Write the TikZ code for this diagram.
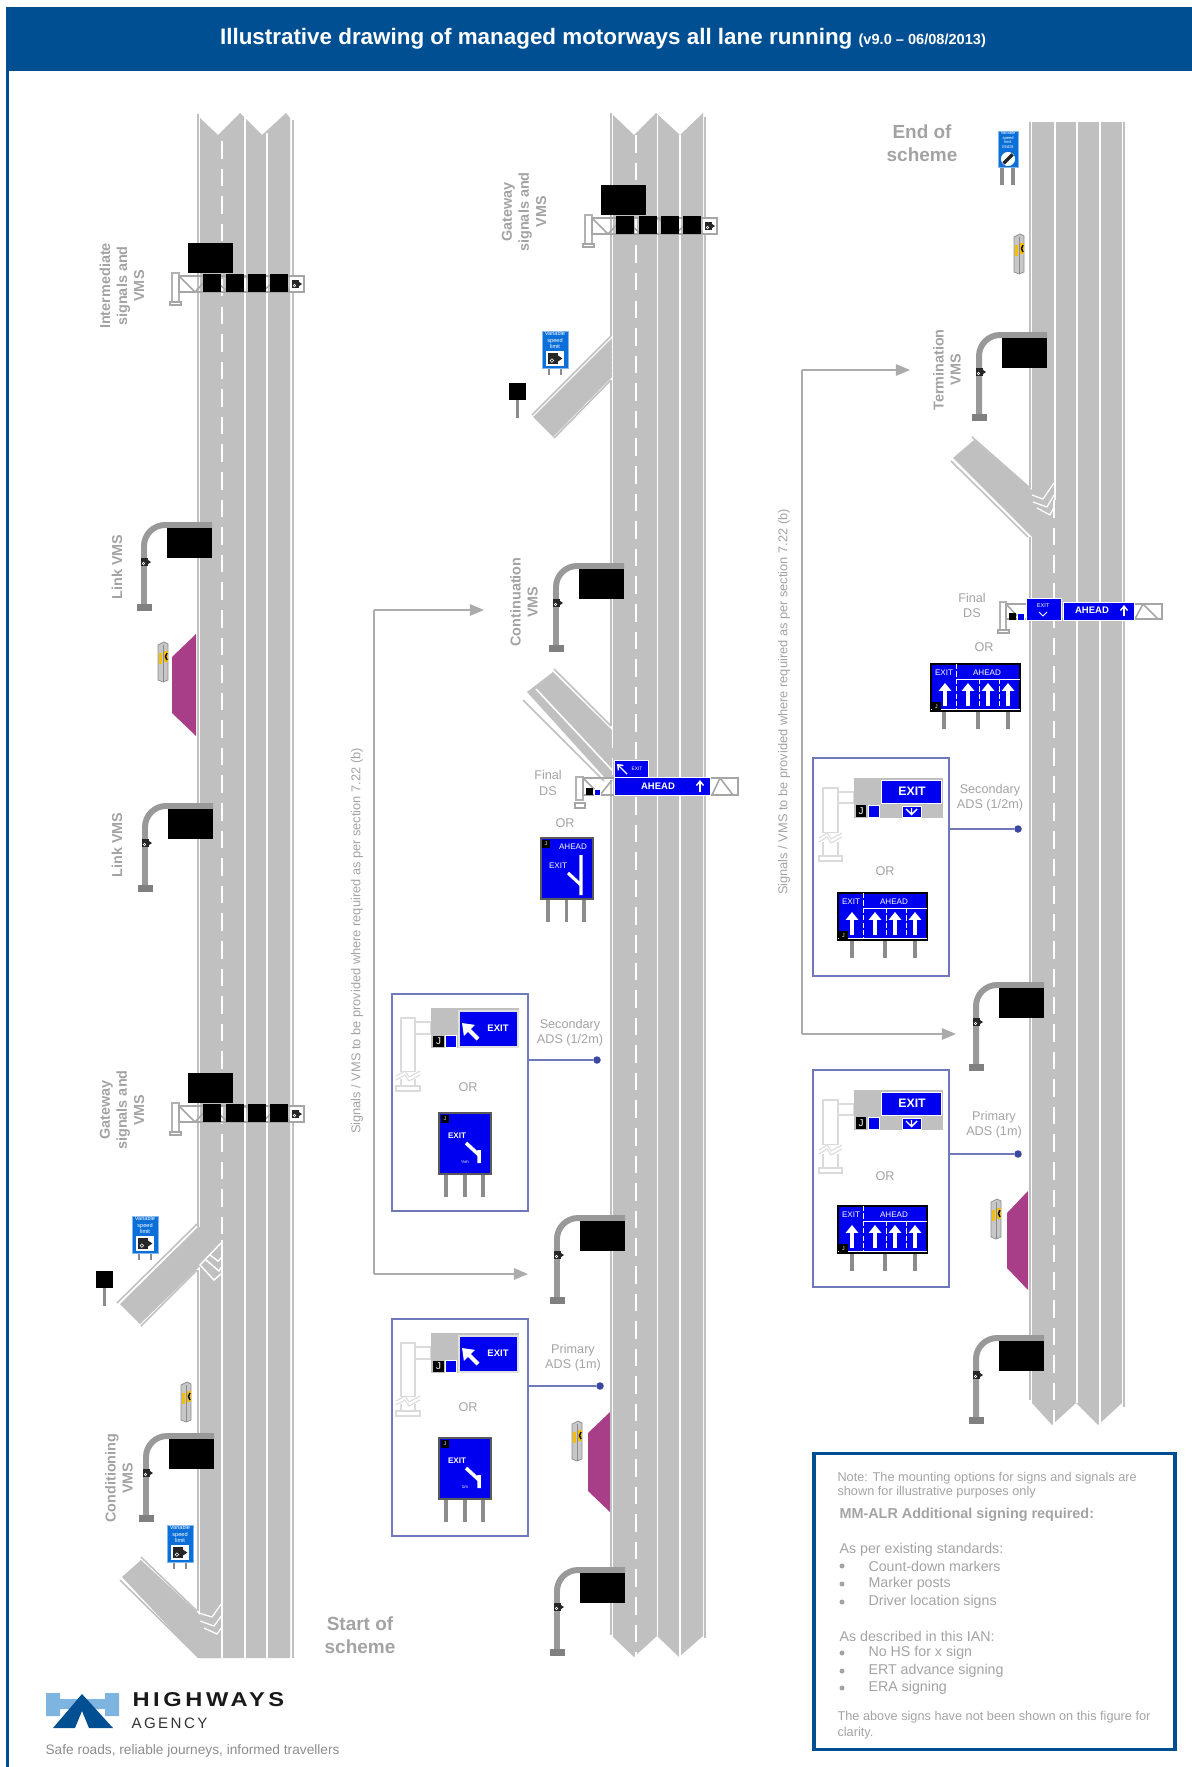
\documentclass[tikz,border=0pt]{standalone}
\usepackage{fontspec}
\setmainfont{Liberation Sans}
\usetikzlibrary{positioning, arrows.meta}
\definecolor{hablue}{HTML}{004F93}
\definecolor{logoblue}{HTML}{7DB4E0}
\definecolor{roadgrey}{HTML}{C0C0C0}
\definecolor{labelgrey}{HTML}{A3A3A3}
\definecolor{adsblue}{HTML}{7078BC}
\definecolor{dotblue}{HTML}{3B47A0}
\definecolor{signblue}{HTML}{0000F0}
\definecolor{vslblue}{HTML}{0A6FD8}
\definecolor{erapurple}{HTML}{A83E87}
\definecolor{ertyellow}{HTML}{F5BE00}
\def\px{0.02cm}
\tikzset{
  roadline/.style={white, line width=0.9pt},
  roaddash/.style={white, line width=0.9pt, dash pattern=on 10pt off 5.7pt},
  roadedge/.style={roadgrey, line width=0.9pt},
  plainlabel/.style={text=labelgrey, inner sep=0pt, align=center, font=\fontsize{7.2}{8.6}\selectfont},
  vmslabel/.style={text=labelgrey, inner sep=0pt, align=center, rotate=90, font=\bfseries\fontsize{8.2}{9.7}\selectfont},
  schemelabel/.style={text=labelgrey, inner sep=0pt, align=center, font=\bfseries\fontsize{10.8}{13.4}\selectfont},
  sidelabel/.style={text=labelgrey, inner sep=0pt, rotate=90, font=\fontsize{7.3}{9}\selectfont},
  orlabel/.style={text=labelgrey, inner sep=0pt, font=\fontsize{7.2}{8.6}\selectfont},
  signtext/.style={text=white, inner sep=0pt, font=\fontsize{4.6}{5}\selectfont},
  signbold/.style={text=white, inner sep=0pt, font=\bfseries\fontsize{5.4}{6}\selectfont},
  notetext/.style={text=labelgrey, inner sep=0pt, anchor=west, font=\fontsize{7.25}{8.6}\selectfont},
  itemtext/.style={text=labelgrey, inner sep=0pt, anchor=west, font=\fontsize{8.1}{9}\selectfont},
  adsbox/.style={draw=adsblue, line width=0.8pt, inner sep=0pt, minimum width=136*\px},
  adsdot/.style={circle, fill=dotblue, inner sep=0pt, minimum size=7.5*\px},
  adsline/.style={adsblue, line width=0.8pt},
  feedline/.style={draw=black!33, line width=0.85pt},
  feedarrow/.style={feedline, -{Triangle[length=8pt,width=6.5pt]}},
  gantrybar/.style={draw=black!35, line width=0.9pt},
  lightpost/.style={draw=black!14, line width=0.8pt, fill=white},
  signpost/.style={draw=black!45, line width=2.1pt},
  whitearrow/.style={white, line width=2pt, -{Triangle[length=4.5pt,width=7pt]}},
  thinarrow/.style={white, line width=0.6pt, -{Straight Barb[length=2.5pt,width=4pt]}},
  camicon/.pic={
    \fill[black!85] (-4,-4) rectangle (3,4);
    \fill[black!85] (3,-2) -- (6,0) -- (3,2) -- cycle;
    \draw[white, line width=0.3pt] (-1.5,1.5) circle[radius=1.3];
  },
}

\begin{document}
\begin{tikzpicture}[x=0.02cm, y=-0.02cm, line width=0.6pt]
  \useasboundingbox (0,0) rectangle (1192,1767);

  % header and frame
  \fill[hablue] (6,7) rectangle (1192,71);
  \fill[hablue] (6,71) rectangle (9,1767);
  \node (title) [text=white, inner sep=0pt] at (603,38.5) {\bfseries\fontsize{12.75}{15}\selectfont Illustrative drawing of managed motorways all lane running \fontsize{8.3}{15}\selectfont (v9.0 – 06/08/2013)};

  % slip roads
  \fill[roadgrey] (198,1227) -- (120,1304) -- (140,1324) -- (198,1268) -- (222,1250) -- (222,1227) -- cycle;
  \draw[roadedge] (197,1224) -- (117,1303);
  \draw[roadedge] (197,1270) -- (141,1326);
  \fill[roadgrey] (141,1560) -- (122,1577) -- (198,1658) -- (222,1658) -- (222,1640) -- (198,1613) -- cycle;
  \draw[roadedge] (141,1557) -- (197,1611);
  \draw[roadedge] (120,1580) -- (197,1656);
  \fill[roadgrey] (612,338) -- (533,417) -- (553,437) -- (612,377) -- cycle;
  \draw[roadedge] (611,336) -- (532,415);
  \draw[roadedge] (611,380) -- (554,438);
  \fill[roadgrey] (553,672) -- (612,730) -- (620,778) -- (605,778) -- (527,692) -- cycle;
  \draw[roadedge] (554,669) -- (611,726);
  \draw[roadedge] (523,700) -- (604,781);
  \draw[roadline] (536,689) -- (612,770);
  \fill[roadgrey] (974,440) -- (953,458) -- (1032,537) -- (1055,537) -- (1055,505) -- (1032,490) -- cycle;
  \draw[roadedge] (972,437) -- (1030,488);
  \draw[roadedge] (951,461) -- (1028,537);

  % carriageways
  \fill[roadgrey] (200,118) -- (218,135) -- (240,113) -- (262,135) -- (286,113) -- (290,118) -- (290,1658) -- (200,1658) -- cycle;
  \fill[roadgrey] (613,115) -- (634,135) -- (656,113) -- (680,135) -- (703,113) -- (703,1636) -- (679,1657) -- (657,1636) -- (634,1657) -- (613,1637) -- cycle;
  \fill[roadgrey] (1032,122) rectangle (1122,1403);
  \fill[roadgrey] (1032,1403) -- (1052,1425) -- (1076,1403) -- (1098,1425) -- (1122,1403) -- cycle;
  \fill[erapurple] (196,634) -- (172,657) -- (172,713) -- (196,736) -- cycle;
  \fill[erapurple] (610,1412) -- (588,1433) -- (588,1491) -- (610,1512) -- cycle;
  \fill[erapurple] (1028,1191) -- (1007,1213) -- (1007,1268) -- (1028,1290) -- cycle;

  % edges and lane lines
  \draw[roadedge] (198,114) -- (198,1227) (198,1270) -- (198,1611) (198,1654) -- (198,1658);
  \draw[roadedge] (293,120) -- (293,1658);
  \draw[roaddash] (222,141) -- (222,1240);
  \draw[roadline] (222,1240) -- (222,1658);
  \draw[roadline] (245,116) -- (245,1658);
  \draw[roadline] (267,133) -- (267,1658);
  \draw[roadedge] (611,113) -- (611,336) (611,380) -- (611,726) (611,780) -- (611,1635);
  \draw[roadedge] (705,117) -- (705,1638);
  \draw[roaddash] (636,135) -- (636,1657);
  \draw[roadline] (657.5,115) -- (657.5,1636);
  \draw[roadline] (680,135) -- (680,1657);
  \draw[white, line width=0.9pt, dash pattern=on 1.5pt off 1.5pt] (612.5,340) -- (612.5,376);
  \draw[roaddash] (612.5,730) -- (612.5,775);
  \draw[roadedge] (1030,122) -- (1030,488) (1030,537) -- (1030,1400);
  \draw[roadedge] (1124,122) -- (1124,1407);
  \draw[roadline] (1055,122) -- (1055,500);
  \draw[roaddash] (1054,500) -- (1054,1425);
  \draw[roadline] (1077,122) -- (1077,1403);
  \draw[roadline] (1100,122) -- (1100,1425);

  % chevrons
  \draw[roadline, line width=0.8pt] (222,1242) -- (200,1265) -- (214,1280) -- (222,1273) (206,1260) -- (219,1271) -- (222,1266) (210,1255) -- (218,1261) -- (222,1257);
  \draw[roadline, line width=0.7pt] (199,1613) -- (212,1617) -- (222,1603) (200,1621) -- (214,1626) -- (222,1615) (204,1628) -- (217,1634) -- (222,1627);
  \draw[roadline, line width=0.7pt] (1032,495) -- (1043,499) -- (1054,483) (1033,502) -- (1047,507) -- (1054,495) (1037,508) -- (1050,515) -- (1054,507);

  % gantries with signals
  \foreach \x/\y in {0/0, 0/830, 413/-58}{
    \begin{scope}[shift={(\x,\y)}]
      \draw[lightpost, draw=black!30] (172,273) rectangle (179,302);
      \draw[gantrybar, fill=white] (170,302) rectangle (181,305);
      \draw[gantrybar] (179,276) rectangle (304,292);
      \draw[gantrybar] (179,276) -- (195,292) -- (210,276) -- (228,292) -- (245,276) -- (262,292) -- (280,276) -- (290,292);
      \fill[white] (290,277) rectangle (303,291);
      \pic at (296,284) {camicon};
      \fill[black] (188,243) rectangle (233,273);
      \foreach \s in {203,226,248,270}{\fill[black] (\s,274) rectangle (\s+18,292);}
    \end{scope}
  }

  % cantilever VMS
  \foreach \x/\y in {167/528, 168/809, 169/1439, 579/569, 580/1221, 580/1573, 1002/338, 999/988, 999/1341}{
    \begin{scope}[shift={(\x,\y)}]
      \draw[black!40, line width=3.4pt, rounded corners=12pt] (-23,78) -- (-23,-3) -- (45,-3);
      \fill[black!50] (-30,76) rectangle (-15,83);
      \fill[black] (0,0) rectangle (45,29.5);
      \pic at (-22,34) {camicon};
    \end{scope}
  }

  % speed limit signs
  \foreach \x/\y in {542/331, 132/1216, 167/1525}{
    \begin{scope}[shift={(\x,\y)}]
      \draw[signpost, line width=1.6pt] (7,36) -- (7,44) (19,36) -- (19,44);
      \filldraw[draw=vslblue!50, fill=vslblue, line width=0.5pt] (0,0) rectangle (26,37);
      \node (vsl\x) [text=white, inner sep=0pt, align=center, font=\fontsize{3.2}{3.7}\selectfont] at (13,9) {Variable\\speed\\limit};
      \fill[white] (4,20) rectangle (22,35);
      \pic[scale=1.4] at (12,27.5) {camicon};
    \end{scope}
  }
  % end of speed limit sign
  \begin{scope}[shift={(998,131)}]
    \draw[signpost] (4,36) -- (4,54) (15,36) -- (15,54);
    \filldraw[draw=vslblue!50, fill=vslblue, line width=0.5pt] (0,0) rectangle (20,36);
    \node (vslend) [text=white, inner sep=0pt, align=center, font=\fontsize{2.3}{2.7}\selectfont] at (10,9) {Variable\\speed\\limit\\ENDS};
    \filldraw[draw=white, fill=white] (10,28) circle[radius=6.5];
    \draw[black!85, line width=2pt] (5.5,32.5) -- (14.5,23.5);
  \end{scope}

  % black signs on posts
  \foreach \x/\y in {96/1271, 509/383}{
    \draw[signpost] (\x+8.5,\y+17) -- (\x+8.5,\y+35);
    \fill[black] (\x,\y) rectangle (\x+17,\y+17);
  }

  % emergency phone posts
  \foreach \x/\y in {1014/234, 181/1382, 158/642, 572/1421, 991/1199}{
    \begin{scope}[shift={(\x,\y)}]
      \filldraw[draw=black!45, fill=black!22, line width=0.4pt] (0,3) -- (6,0) -- (10,2) -- (10,38) -- (5,40) -- (0,38) -- cycle;
      \draw[black!45, line width=0.4pt] (5,3) -- (5,40);
      \fill[ertyellow] (1,11) rectangle (4,22);
      \fill[ertyellow] (6,9) rectangle (10,20);
      \draw[black, line width=0.8pt] (9,11) .. controls (7,13) and (7,16) .. (9,18);
    \end{scope}
  }

  % advance sign boxes
  \node (boxa) [adsbox, minimum height=217*\px] at (460,1102.5) {};
  \node (boxb) [adsbox, minimum height=217*\px] at (460,1427.5) {};
  \node (boxc) [adsbox, minimum height=218*\px] at (881,867) {};
  \node (boxd) [adsbox, minimum height=217*\px] at (881,1178.5) {};
  \node (dota) [adsdot] at (597,1060) {};
  \node (dotb) [adsdot] at (600,1386) {};
  \node (dotc) [adsdot] at (1018,829) {};
  \node (dotd) [adsdot] at (1018,1154) {};
  \foreach \b in {a,b,c,d}{\draw[adsline] (box\b.east |- dot\b) -- (dot\b);}

  % exit panel and sign, left hand boxes
  \foreach \x/\y/\o/\km in {392/994/93/½m, 392/1319/88/1m}{
    \begin{scope}[shift={(\x,\y)}]
      \draw[lightpost] (9,24) rectangle (23,78);
      \draw[lightpost] (23,28) rectangle (39,40);
      \draw[lightpost] (9,78) rectangle (23,92);
      \draw[lightpost] (4,92) rectangle (28,97);
      \fill[white] (8,78) rectangle (24,85);
      \draw[black!14, line width=0.6pt] (4,82) -- (13,77) -- (17,83) -- (28,77) (4,86) -- (13,81) -- (17,87) -- (28,81);
      \fill[roadgrey] (39,14) rectangle (127,54);
      \filldraw[draw=black!12, fill=signblue, line width=0.6pt] (67,17) rectangle (126,53);
      \fill[black] (41,42) rectangle (52,53);
      \node (jpanel\y) [signtext, font=\fontsize{5.6}{6}\selectfont] at (46.5,47.5) {J};
      \filldraw[draw=white, fill=signblue, line width=0.4pt] (53,41) rectangle (64,53);
      \draw[white, line width=2.4pt, -{Triangle[length=6pt,width=8.5pt]}] (86,45) -- (70,29);
      \node (exit\y) [signbold] at (106,34) {EXIT};
      \node (or\y) [orlabel] at (76,\o) {OR};
      \draw[signpost] (54,180) -- (54,203) (73,180) -- (73,203) (91,180) -- (91,203);
      \filldraw[draw=black!65, fill=signblue, line width=0.8pt] (47,119) rectangle (99,180);
      \fill[black] (49,121) rectangle (57,129);
      \node (jsign\y) [signtext, font=\fontsize{3}{3}\selectfont] at (53,125) {J};
      \node (signexit\y) [signbold, font=\bfseries\fontsize{4.6}{5}\selectfont] at (65,142) {EXIT};
      \draw[white, line width=2pt] (87,156) -- (87,169) (87,161) -- (74,149);
      \node (signkm\y) [signtext, font=\fontsize{2.5}{3}\selectfont] at (73,168) {\km};
    \end{scope}
  }

  % exit panel and sign, right hand boxes
  \foreach \x/\y/\o in {813/758/113, 813/1070/106}{
    \begin{scope}[shift={(\x,\y)}]
      \draw[lightpost] (10,30) rectangle (25,75);
      \draw[lightpost] (25,34) rectangle (41,45);
      \draw[lightpost] (10,75) rectangle (25,98);
      \draw[lightpost] (6,98) rectangle (29,103);
      \fill[white] (9,75) rectangle (26,84);
      \draw[black!14, line width=0.6pt] (6,80) -- (14,75) -- (18,81) -- (29,75) (6,84) -- (14,79) -- (18,85) -- (29,79);
      \fill[roadgrey] (41,20) rectangle (130,60);
      \filldraw[draw=white, fill=signblue, line width=0.5pt] (68,22) rectangle (128,45);
      \node (exit\y) [signbold, font=\bfseries\fontsize{7}{8}\selectfont] at (99,33) {EXIT};
      \fill[black] (43,47) rectangle (53,59);
      \node (jpanel\y) [signtext, font=\fontsize{5.6}{6}\selectfont] at (48,53) {J};
      \filldraw[draw=white, fill=signblue, line width=0.4pt] (55,47) rectangle (66,59);
      \filldraw[draw=white, fill=signblue, line width=0.4pt] (89,48) rectangle (108,59);
      \draw[white, line width=0.8pt] (98.5,50) -- (98.5,56) (93,51) -- (98.5,56.5) -- (104,51);
      \node (or\y) [orlabel] at (72,\o) {OR};
    \end{scope}
  }

  % four lane signs
  \foreach \x/\y/\pa/\pb/\pc in {838/893/14/47/77, 838/1206/14/47/77, 931/664/13/47/77}{
    \begin{scope}[shift={(\x,\y)}]
      \draw[signpost] (\pa,47) -- (\pa,65) (\pb,47) -- (\pb,65) (\pc,47) -- (\pc,65);
      \filldraw[draw=black, fill=signblue, line width=0.7pt] (0,0) rectangle (89,47);
      \draw[white, line width=0.5pt] (25,15) -- (89,15) (0,45.5) -- (89,45.5);
      \draw[white, line width=0.5pt, dash pattern=on 3pt off 1.2pt] (25,0) -- (25,45) (48,15) -- (48,45) (68,15) -- (68,45);
      \node (lexit\y) [signtext] at (13,9) {EXIT};
      \node (lahead\y) [signtext] at (56,9) {AHEAD};
      \foreach \a in {14,37,57,77}{\draw[whitearrow] (\a,42) -- (\a,19);}
      \fill[black] (1,38) rectangle (10,47);
      \node (lj\y) [signtext, font=\fontsize{3}{3}\selectfont] at (5.5,42.5) {J};
    \end{scope}
  }

  % final DS, middle road
  \draw[lightpost, draw=black!30] (576,777) rectangle (583,800);
  \draw[gantrybar, fill=white] (575,803) rectangle (585,808);
  \draw[gantrybar] (583,778) rectangle (738,795);
  \draw[gantrybar] (583,778) -- (600,795) -- (612,780) (712,795) -- (720,778) -- (733,795);
  \fill[black] (586,788) rectangle (593,795);
  \filldraw[draw=white, fill=signblue, line width=0.3pt] (594,789) rectangle (600,795);
  \filldraw[draw=white, fill=signblue, line width=0.5pt] (614,760) rectangle (648,777);
  \draw[thinarrow, line width=0.8pt] (627,774) -- (617,764);
  \node (exitm) [signtext, font=\fontsize{2.8}{3}\selectfont] at (637,768.5) {EXIT};
  \filldraw[draw=white, fill=signblue, line width=0.5pt] (614,777) rectangle (710,795);
  \node (aheadm) [signbold] at (658,786) {AHEAD};
  \draw[thinarrow, line width=0.8pt] (700,792) -- (700,780);
  \node (finalm) [plainlabel] at (548,783) {Final\\DS};
  \node (orm) [orlabel] at (565,823) {OR};
  \draw[signpost] (548,899) -- (548,922) (566.5,899) -- (566.5,922) (584,899) -- (584,922);
  \filldraw[draw=black!65, fill=signblue, line width=0.8pt] (541,838) rectangle (593,899);
  \fill[black] (542,840) rectangle (550,848);
  \node (jm) [signtext, font=\fontsize{3}{3}\selectfont] at (546,844) {J};
  \node (signahead) [signtext] at (573,847) {AHEAD};
  \node (signexit) [signtext] at (558,866) {EXIT};
  \draw[white, line width=1.8pt] (581,855) -- (581,895) (581,885) -- (568,873);

  % final DS, right road
  \draw[lightpost, draw=black!30] (1000,602) rectangle (1006,630);
  \draw[gantrybar, fill=white] (998,630) rectangle (1009,633);
  \draw[gantrybar] (1006,604) rectangle (1162,619);
  \draw[gantrybar] (1006,604) -- (1020,619) (1135,619) -- (1143,604) -- (1158,619);
  \fill[black] (1009,613) rectangle (1016,620);
  \filldraw[draw=white, fill=signblue, line width=0.3pt] (1017,613) rectangle (1024,620);
  \filldraw[draw=white, fill=signblue, line width=0.5pt] (1026,598) rectangle (1061,620);
  \node (exitr) [signtext, font=\fontsize{3.2}{3}\selectfont] at (1043,606) {EXIT};
  \draw[white, line width=0.5pt] (1039,612) -- (1043,616) -- (1047,612);
  \filldraw[draw=white, fill=signblue, line width=0.5pt] (1063,602) rectangle (1134,620);
  \node (aheadr) [signbold] at (1092,610) {AHEAD};
  \draw[thinarrow, line width=0.8pt] (1124,616) -- (1124,605);
  \node (finalr) [plainlabel] at (972,605.5) {Final\\DS};
  \node (orr) [orlabel] at (984,647) {OR};

  % labels
  \node (lblinter) [vmslabel] at (122,286) {Intermediate\\signals and\\VMS};
  \node (lbllinka) [vmslabel] at (117,567) {Link VMS};
  \node (lbllinkb) [vmslabel] at (117,845) {Link VMS};
  \node (lblgatea) [vmslabel] at (122,1110) {Gateway\\signals and\\VMS};
  \node (lblcond) [vmslabel] at (119,1478) {Conditioning\\VMS};
  \node (lblgateb) [vmslabel] at (524,212) {Gateway\\signals and\\VMS};
  \node (lblcont) [vmslabel] at (524,602) {Continuation\\VMS};
  \node (lblterm) [vmslabel] at (947,370) {Termination\\VMS};
  \node (lblend) [schemelabel] at (922,143) {End of\\scheme};
  \node (lblstart) [schemelabel] at (360,1635) {Start of\\scheme};
  \node (lblseca) [plainlabel] at (570,1032.5) {Secondary\\ADS (1/2m)};
  \node (lblpria) [plainlabel] at (573,1357.5) {Primary\\ADS (1m)};
  \node (lblsecb) [plainlabel] at (990,798) {Secondary\\ADS (1/2m)};
  \node (lblprib) [plainlabel] at (994,1125) {Primary\\ADS (1m)};
  \node (sidea) [sidelabel] at (357,941) {Signals / VMS to be provided where required as per section 7.22 (b)};
  \node (sideb) [sidelabel] at (784,702) {Signals / VMS to be provided where required as per section 7.22 (b)};

  % feed arrows
  \coordinate (feeda) at (374,610);
  \coordinate (feedb) at (374,1274);
  \coordinate (feedc) at (802,370);
  \coordinate (feedd) at (802,1034);
  \coordinate (vmscont) at (484,610);
  \coordinate (vmslow) at (528,1274);
  \coordinate (vmsterm) at (910,370);
  \coordinate (vmsmid) at (956,1034);
  \draw[feedline] (feeda) -- (feedb);
  \draw[feedline] (feedc) -- (feedd);
  \draw[feedarrow] (feeda) -- (vmscont);
  \draw[feedarrow] (feedb) -- (vmslow);
  \draw[feedarrow] (feedc) -- (vmsterm);
  \draw[feedarrow] (feedd) -- (vmsmid);

  % note panel
  \node (notebox) [draw=hablue, line width=2pt, inner sep=0pt, minimum width=361*\px, minimum height=296*\px] at (994.5,1601.5) {};
  \node (notea) [notetext] at (837,1478) {Note: The mounting options for signs and signals are};
  \node (noteb) [notetext] at (837,1492) {shown for illustrative purposes only};
  \node (notec) [itemtext, font=\bfseries\fontsize{8.2}{9}\selectfont] at (839,1515) {MM-ALR Additional signing required:};
  \node (noted) [itemtext] at (839,1550) {As per existing standards:};
  \node (notee) [itemtext] at (839,1636) {As described in this IAN:};
  \foreach \y/\t in {1566/Count-down markers, 1584/Marker posts, 1602/Driver location signs, 1653/No HS for x sign, 1671/ERT advance signing, 1688/ERA signing}{
    \fill[labelgrey] (842,\y) circle[radius=2.5];
    \node (item\y) [itemtext] at (868,\y) {\t};
  }
  \node (notef) [notetext] at (837,1717) {The above signs have not been shown on this figure for};
  \node (noteg) [notetext] at (837,1733) {clarity.};

  % logo
  \fill[logoblue] (46,1693) rectangle (60,1716) (105,1693) rectangle (119,1716) (60,1699) rectangle (105,1709);
  \fill[hablue] (82,1694) -- (113,1728) -- (89,1728) -- (82,1711) -- (75,1728) -- (53,1728) -- cycle;
  \node (logoa) [inner sep=0pt, anchor=west, text=black!90] at (132,1700) {\addfontfeature{FakeStretch=1.18,LetterSpace=18}\bfseries\fontsize{11.4}{13}\selectfont HIGHWAYS};
  \node (logob) [inner sep=0pt, anchor=west, text=black!80] at (131,1723) {\addfontfeature{LetterSpace=16}\fontsize{8.6}{10}\selectfont AGENCY};
  \node (logoc) [inner sep=0pt, anchor=west, text=black!45] at (45,1751) {\fontsize{7.8}{10}\selectfont Safe roads, reliable journeys, informed travellers};
\end{tikzpicture}
\end{document}
